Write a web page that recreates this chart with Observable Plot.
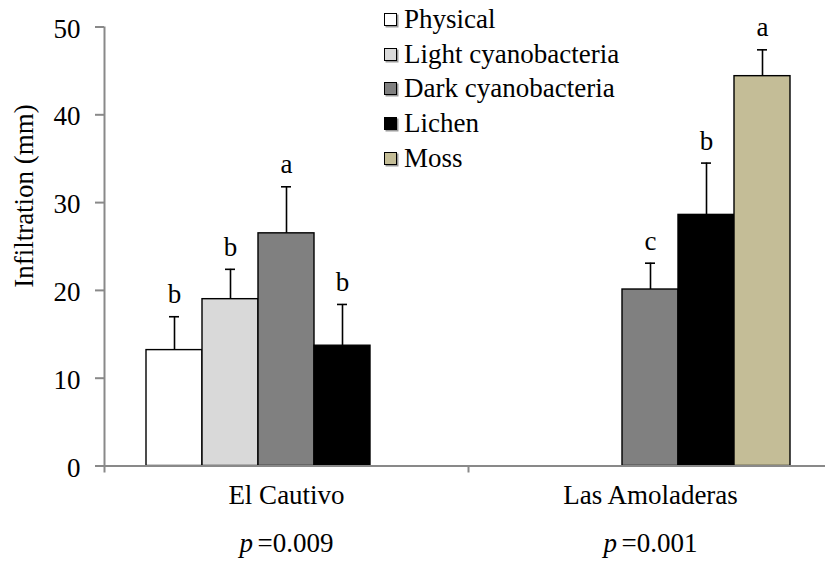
<!DOCTYPE html>
<html>
<head>
<meta charset="utf-8">
<script src="https://cdn.jsdelivr.net/npm/d3@7"></script>
<script src="https://cdn.jsdelivr.net/npm/@observablehq/plot@0.6"></script>
<style>
  html, body { margin: 0; padding: 0; background: #fff; overflow: hidden; }
  #chart { position: relative; width: 825px; height: 567px; font-family: "Liberation Serif", "Times New Roman", serif; }
  #chart svg text { font-family: "Liberation Serif", "Times New Roman", serif; }
  #legend { position: absolute; left: 384px; top: 2px; font-size: 27px; color: #000; }
  #legend .row { display: flex; align-items: center; height: 34.7px; }
  #legend .sw { width: 11px; height: 11px; border: 1.5px solid #000; box-shadow: 1.5px 1.5px 0 #9a9a9a; margin-right: 7px; }
  #ytitle { position: absolute; left: 24px; top: 196px; transform: translate(-50%, -50%) rotate(-90deg); white-space: nowrap; font-size: 27px; color: #000; }
</style>
</head>
<body>
<div id="chart"><div id="legend"></div><div id="ytitle">Infiltration (mm)</div></div>
<script>
// Sites along the x axis, with the ANOVA p-value printed under each
const sites = ["El Cautivo", "Las Amoladeras"];
const pValues = ["0.009", "0.001"];

// Soil-surface types and their bar fills
const series = ["Physical", "Light cyanobacteria", "Dark cyanobacteria", "Lichen", "Moss"];
const seriesColors = ["#ffffff", "#d9d9d9", "#808080", "#000000", "#c4bd97"];

// Mean infiltration (mm), standard error and significance letter, per site
const elCautivoMean    = [13.2, 19.0, 26.5, 13.7, null];
const elCautivoSE      = [3.8, 3.4, 5.3, 4.7, null];
const elCautivoLetter  = ["b", "b", "a", "b", null];
const amoladerasMean   = [null, null, 20.1, 28.6, 44.4];
const amoladerasSE     = [null, null, 3.0, 5.9, 3.0];
const amoladerasLetter = [null, null, "c", "b", "a"];

const yTicks = [0, 10, 20, 30, 40, 50];

const W = 825, H = 567;
const marginLeft = 104, marginRight = -7, marginTop = 26.5, marginBottom = 101.5;
const axisGray = "#898989";
const font = "Liberation Serif, Times New Roman, serif";
const fs = 27;

// Each site occupies one unit of x; the five series share it with
// three quarters of a bar width of padding on either side.
const slots = series.length + 1.5;
const bandPx = (W - marginRight - marginLeft) / sites.length;
const capHalf = 5 / bandPx;

const means = [elCautivoMean, amoladerasMean];
const ses = [elCautivoSE, amoladerasSE];
const letters = [elCautivoLetter, amoladerasLetter];

const bars = [];
sites.forEach((site, g) => {
  series.forEach((name, s) => {
    const mean = means[g][s];
    if (mean == null) return;
    const se = ses[g][s];
    bars.push({
      site, series: name, mean, se, letter: letters[g][s],
      x1: g + (0.75 + s) / slots,
      x2: g + (1.75 + s) / slots,
      xc: g + (1.25 + s) / slots,
      top: mean + se
    });
  });
});

const siteRows = sites.map((name, i) => ({name, p: pValues[i], xc: i + 0.5}));

const plot = Plot.plot({
  width: W, height: H,
  marginLeft, marginRight, marginTop, marginBottom,
  style: {fontFamily: font, fontSize: fs + "px", background: "transparent", color: "#000"},
  x: {type: "linear", domain: [0, sites.length], axis: null},
  y: {domain: [0, 50], axis: null},
  color: {domain: series, range: seriesColors},
  marks: [
    Plot.rectY(bars, {x1: "x1", x2: "x2", y: "mean", fill: "series", stroke: "#000", strokeWidth: 1.4}),
    // error bars (upper half only) with caps
    Plot.ruleX(bars, {x: "xc", y1: "mean", y2: "top", stroke: "#000", strokeWidth: 1.6}),
    Plot.ruleY(bars, {x1: d => d.xc - capHalf, x2: d => d.xc + capHalf, y: "top", stroke: "#000", strokeWidth: 1.6}),
    Plot.text(bars, {x: "xc", y: "top", text: "letter", dy: -22, fontSize: fs, fill: "#000"}),
    // axes
    Plot.ruleX([0], {y1: 0, y2: 50, stroke: axisGray, strokeWidth: 2}),
    Plot.ruleY([0], {stroke: axisGray, strokeWidth: 2}),
    Plot.axisY({ticks: yTicks, tickSize: 9, tickFormat: () => "", stroke: axisGray, strokeWidth: 2}),
    Plot.axisY({ticks: yTicks, tickSize: 0, tickPadding: 24, fontSize: fs, fill: "#000", dy: 2}),
    Plot.axisX({ticks: d3.range(sites.length + 1), tickSize: 7, tickFormat: () => "", stroke: axisGray, strokeWidth: 2}),
    // site names and p-values under the axis
    Plot.text(siteRows, {x: "xc", frameAnchor: "bottom", dy: 38, text: "name", fontSize: fs, fill: "#000"}),
    Plot.text(siteRows, {x: "xc", frameAnchor: "bottom", dy: 85.5, text: () => "p", fontStyle: "italic", textAnchor: "start", dx: -47, fontSize: fs, fill: "#000"}),
    Plot.text(siteRows, {x: "xc", frameAnchor: "bottom", dy: 85.5, text: d => "=" + d.p, textAnchor: "start", dx: -29, fontSize: fs, fill: "#000"})
  ]
});

const chart = document.getElementById("chart");
chart.insertBefore(plot, chart.firstChild);

// Legend overlaid in the upper middle of the chart
const legend = d3.select("#legend");
series.forEach((name, i) => {
  const row = legend.append("div").attr("class", "row");
  row.append("div").attr("class", "sw").style("background", seriesColors[i]);
  row.append("span").text(name);
});
</script>
</body>
</html>
